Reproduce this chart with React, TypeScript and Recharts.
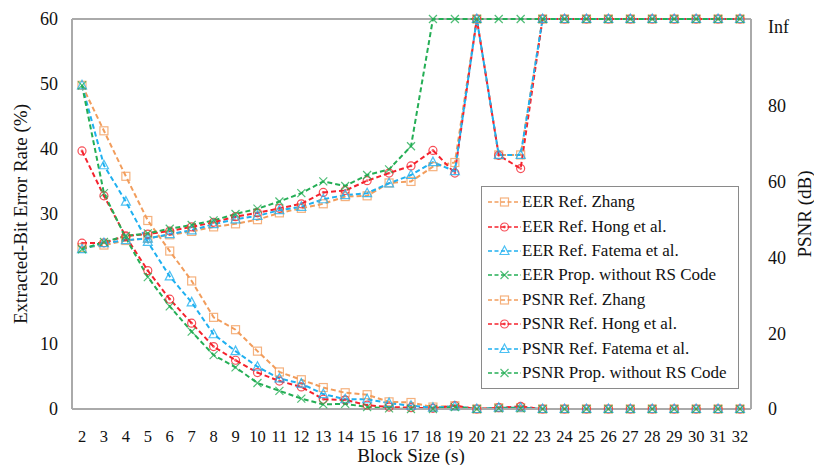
import React from 'react';
import { LineChart, Line, XAxis, YAxis, Legend, ReferenceLine } from 'recharts';

// block sizes on the x axis
const blockSizes = [2, 3, 4, 5, 6, 7, 8, 9, 10, 11, 12, 13, 14, 15, 16, 17, 18, 19, 20, 21, 22, 23, 24, 25, 26, 27, 28, 29, 30, 31, 32];

// PSNR "Inf" is drawn at the top of the right axis
const INF = 103;

// Extracted-bit error rate (%), left axis
const eerZhang = [49.8, 42.8, 35.8, 29.0, 24.3, 19.7, 14.1, 12.2, 8.9, 5.7, 4.5, 3.3, 2.5, 2.2, 1.1, 1.0, 0.3, 0.5, 0, 0.2, 0.2, 0, 0, 0, 0, 0, 0, 0, 0, 0, 0];
const eerHong = [39.7, 32.8, 26.5, 21.3, 16.9, 13.2, 9.6, 7.5, 5.6, 4.3, 3.4, 1.5, 1.4, 0.6, 0.3, 0.2, 0.1, 0.5, 0, 0.2, 0.4, 0, 0, 0, 0, 0, 0, 0, 0, 0, 0];
const eerFatema = [49.8, 37.5, 31.9, 25.7, 20.4, 16.4, 11.5, 8.9, 6.5, 4.7, 3.9, 2.3, 1.5, 1.5, 0.9, 0.5, 0.2, 0.4, 0, 0.2, 0.2, 0, 0, 0, 0, 0, 0, 0, 0, 0, 0];
const eerProp = [49.8, 33.2, 26.3, 20.3, 15.8, 11.9, 8.3, 6.4, 4.0, 2.8, 1.6, 0.7, 0.8, 0.3, 0.1, 0, 0, 0.3, 0, 0.1, 0.1, 0, 0, 0, 0, 0, 0, 0, 0, 0, 0];

// PSNR (dB), right axis
const psnrZhang = [42.6, 43.3, 44.5, 45.1, 46.0, 46.9, 48.1, 48.9, 50.0, 51.8, 53.0, 54.2, 56.1, 56.3, 59.7, 60.1, 64.0, 65.1, INF, 67.1, 67.1, INF, INF, INF, INF, INF, INF, INF, INF, INF, INF];
const psnrHong = [43.8, 43.9, 45.7, 46.2, 47.0, 48.1, 49.3, 50.8, 51.8, 53.0, 54.2, 57.2, 57.7, 60.3, 62.3, 64.2, 68.3, 62.3, INF, 67.0, 63.5, INF, INF, INF, INF, INF, INF, INF, INF, INF, INF];
const psnrFatema = [42.2, 43.8, 44.6, 45.0, 46.2, 47.2, 48.8, 50.1, 51.0, 52.5, 53.4, 55.4, 56.5, 57.0, 59.6, 61.8, 65.2, 62.8, INF, 67.1, 67.1, INF, INF, INF, INF, INF, INF, INF, INF, INF, INF];
const psnrProp = [42.2, 44.1, 45.7, 46.4, 47.6, 48.6, 49.8, 51.5, 52.9, 54.8, 57.0, 60.1, 58.9, 61.8, 63.3, 69.4, INF, INF, INF, INF, INF, INF, INF, INF, INF, INF, INF, INF, INF, INF, INF];

const leftTicks = [0, 10, 20, 30, 40, 50, 60];
const rightTicks = [0, 20, 40, 60, 80, INF];

const ORANGE = '#F29D5C';
const RED = '#F5222D';
const BLUE = '#1FB0F0';
const GREEN = '#24AE55';
const AXIS = '#aaaaaa';
const FONT = '"Times New Roman", Times, Tinos, "Nimbus Roman", "Nimbus Roman No9 L", FreeSerif, "Noto Serif", "Liberation Serif", "DejaVu Serif", serif';

const series = [
  { key: 'eerZhang', name: 'EER Ref. Zhang', axis: 'left', color: ORANGE, shape: 'square', values: eerZhang },
  { key: 'eerHong', name: 'EER Ref. Hong et al.', axis: 'left', color: RED, shape: 'circle', values: eerHong },
  { key: 'eerFatema', name: 'EER Ref. Fatema et al.', axis: 'left', color: BLUE, shape: 'triangle', values: eerFatema },
  { key: 'eerProp', name: 'EER Prop. without RS Code', axis: 'left', color: GREEN, shape: 'x', values: eerProp },
  { key: 'psnrZhang', name: 'PSNR Ref. Zhang', axis: 'right', color: ORANGE, shape: 'square', values: psnrZhang },
  { key: 'psnrHong', name: 'PSNR Ref. Hong et al.', axis: 'right', color: RED, shape: 'circle', values: psnrHong },
  { key: 'psnrFatema', name: 'PSNR Ref. Fatema et al.', axis: 'right', color: BLUE, shape: 'triangle', values: psnrFatema },
  { key: 'psnrProp', name: 'PSNR Prop. without RS Code', axis: 'right', color: GREEN, shape: 'x', values: psnrProp },
];

const data = blockSizes.map((s, i) => {
  const row: any = { s };
  series.forEach((se) => { row[se.key] = se.values[i]; });
  return row;
});

function Marker({ shape, cx, cy, color }: { shape: string; cx: number; cy: number; color: string }) {
  if (cx == null || cy == null) return null;
  const common = { fill: 'none', stroke: color, strokeWidth: 1.2, strokeOpacity: 0.8 };
  if (shape === 'square') return <rect x={cx - 4} y={cy - 4} width={8} height={8} {...common} />;
  if (shape === 'circle') {
    return (
      <g>
        <circle cx={cx} cy={cy} r={4} {...common} />
        <circle cx={cx} cy={cy} r={1.4} fill={color} fillOpacity={0.7} />
      </g>
    );
  }
  if (shape === 'triangle') {
    return <path d={`M${cx},${cy - 5}L${cx + 4.5},${cy + 3.5}L${cx - 4.5},${cy + 3.5}Z`} {...common} />;
  }
  return <path d={`M${cx - 4},${cy - 4}L${cx + 4},${cy + 4}M${cx + 4},${cy - 4}L${cx - 4},${cy + 4}`} {...common} />;
}

const renderLegend = () => (
  <div style={{ border: '1.5px solid #8a8a8a', background: '#fff', width: 258, padding: '3px 0 3px 6px', boxSizing: 'border-box', fontFamily: FONT, fontSize: 17, color: '#111' }}>
    {series.map((se) => (
      <div key={se.key} style={{ display: 'flex', alignItems: 'center', height: 24.4, whiteSpace: 'nowrap' }}>
        <svg width={33} height={14} style={{ marginRight: 1 }}>
          <line x1={0} y1={7} x2={33} y2={7} stroke={se.color} strokeWidth={1.6} strokeDasharray="4 2.5" />
          <Marker shape={se.shape} cx={16.5} cy={7} color={se.color} />
        </svg>
        <span>{se.name}</span>
      </div>
    ))}
  </div>
);

const RightTick = (props: any) => {
  const { x, y, payload } = props;
  const inf = payload.value === INF;
  return (
    <text x={x} y={y + (inf ? 8 : 0)} dy="0.35em" textAnchor="start" fontFamily={FONT} fontSize={18} fill="#111">
      {inf ? 'Inf' : payload.value}
    </text>
  );
};

const tickStyle = { fontFamily: FONT, fontSize: 18, fill: '#111' };
const xTickStyle = { fontFamily: FONT, fontSize: 16.5, fill: '#111' };

export default function App() {
  return (
    <div style={{ position: 'relative', width: 814, height: 465, background: '#fff', fontFamily: FONT }}>
      <style>{'body{margin:0}'}</style>
      <LineChart width={814} height={465} data={data} margin={{ top: 19, right: 0, bottom: 0, left: 0 }}>
        <XAxis
          dataKey="s"
          height={56}
          interval={0}
          padding={{ left: 10, right: 11 }}
          tickLine={false}
          tickSize={0}
          tickMargin={21}
          axisLine={{ stroke: AXIS, strokeWidth: 2 }}
          tick={xTickStyle}
          label={{
            content: () => (
              <text x={411} y={455} textAnchor="middle" dominantBaseline="central" fontFamily={FONT} fontSize={19} fill="#111">
                Block Size (s)
              </text>
            ),
          }}
        />
        <YAxis
          yAxisId="left"
          domain={[0, 60]}
          ticks={leftTicks}
          width={72}
          tickLine={false}
          tickSize={0}
          tickMargin={14}
          axisLine={{ stroke: AXIS, strokeWidth: 2 }}
          tick={tickStyle}
          label={{
            content: () => (
              <text x={20} y={214} transform="rotate(-90 20 214)" textAnchor="middle" dominantBaseline="central" fontFamily={FONT} fontSize={19} fill="#111">
                Extracted-Bit Error Rate (%)
              </text>
            ),
          }}
        />
        <YAxis
          yAxisId="right"
          orientation="right"
          domain={[0, INF]}
          ticks={rightTicks}
          width={63}
          tickLine={false}
          tickSize={0}
          tickMargin={17}
          axisLine={{ stroke: AXIS, strokeWidth: 2 }}
          tick={<RightTick />}
          label={{
            content: () => (
              <text x={804} y={214} transform="rotate(-90 804 214)" textAnchor="middle" dominantBaseline="central" fontFamily={FONT} fontSize={19} fill="#111">
                PSNR (dB)
              </text>
            ),
          }}
        />
        <ReferenceLine yAxisId="left" y={60} stroke={AXIS} strokeWidth={2} />
        <Legend
          layout="vertical"
          align="center"
          verticalAlign="middle"
          content={renderLegend}
          wrapperStyle={{ left: 481, top: 186, width: 258 }}
        />
        {series.map((se) => (
          <Line
            key={se.key}
            yAxisId={se.axis}
            type="linear"
            dataKey={se.key}
            name={se.name}
            stroke={se.color}
            strokeWidth={2}
            strokeDasharray="5 3"
            dot={(p: any) => <Marker key={`${se.key}-${p.index}`} shape={se.shape} cx={p.cx} cy={p.cy} color={se.color} />}
            activeDot={false}
            isAnimationActive={false}
          />
        ))}
      </LineChart>
    </div>
  );
}
